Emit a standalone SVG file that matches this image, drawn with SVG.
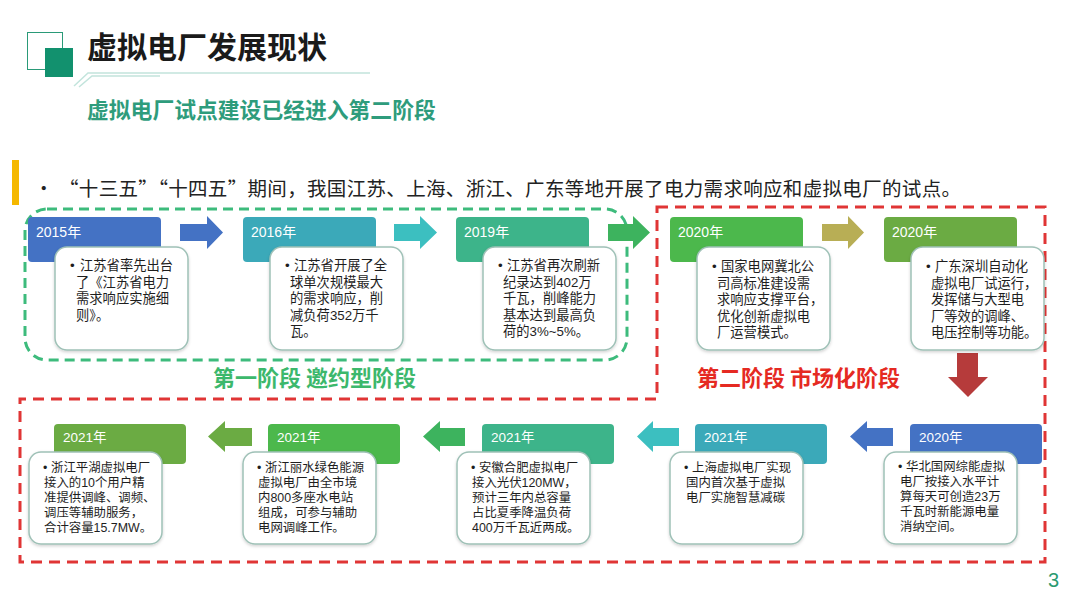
<svg xmlns="http://www.w3.org/2000/svg" width="1080" height="608" viewBox="0 0 1080 608">
<defs>
<filter id="sh" x="-10%" y="-10%" width="120%" height="125%"><feDropShadow dx="0" dy="1.5" stdDeviation="1.5" flood-color="#000" flood-opacity="0.18"/></filter>
</defs>
<style>
.zh{font-family:"Noto Sans CJK SC","Liberation Sans",sans-serif}
.yr{font-family:"Liberation Sans","Noto Sans CJK SC",sans-serif;font-size:14px;fill:#fff}
.yb{font-family:"Liberation Sans","Noto Sans CJK SC",sans-serif;font-size:13.5px;fill:#fff}
.box{fill:#fff;stroke:#9fc1b7;stroke-width:1.5;filter:url(#sh)}
.ct{font-family:"Liberation Sans","Noto Sans CJK SC",sans-serif;font-size:13.3px;fill:#1e1e1e}
.cb{font-family:"Liberation Sans","Noto Sans CJK SC",sans-serif;font-size:12.4px;fill:#1e1e1e}
</style>
<rect width="1080" height="608" fill="#fff"/>
<g id="header">
<rect x="27.5" y="32.5" width="35" height="37" fill="none" stroke="#2a9a78" stroke-width="1"/>
<rect x="45" y="48" width="28" height="29" fill="#12916e"/>
<text x="87" y="58" class="zh" font-size="30" font-weight="bold" fill="#1a1a1a">虚拟电厂发展现状</text>
<path d="M74,86 L88,73 L370,73" fill="none" stroke="#c2e4dc" stroke-width="1.5"/>
<path d="M79,87 L92,76 L160,76" fill="none" stroke="#c2e4dc" stroke-width="1.5"/>
<text x="87" y="118" class="zh" font-size="21.8" font-weight="bold" fill="#2e9c7c">虚拟电厂试点建设已经进入第二阶段</text>
<rect x="12" y="160" width="7" height="45" fill="#f5b800"/>
<text x="34" y="196" class="zh" font-size="19.5" fill="#222">•</text>
<text x="59" y="196" class="zh" font-size="19.5" fill="#222" textLength="902" lengthAdjust="spacing">“十三五”“十四五”期间，我国江苏、上海、浙江、广东等地开展了电力需求响应和虚拟电厂的试点。</text>
</g>
<g id="stages">
<rect x="25" y="209" width="602" height="151" rx="22" fill="none" stroke="#3dbb7c" stroke-width="3" stroke-dasharray="10,6"/>
<path d="M657,207 H1045 V562 H20 V399 H657 Z" fill="none" stroke="#e03535" stroke-width="3" stroke-dasharray="11,7"/>
<text x="213" y="386" class="zh" font-size="22" font-weight="bold" fill="#3cb86c">第一阶段 邀约型阶段</text>
<text x="697" y="386" class="zh" font-size="22" font-weight="bold" fill="#e52a22">第二阶段 市场化阶段</text>
</g>
<g id="connectors">
<path d="M180,224 H207 V216 L223,232.5 L207,249 V241 H180 Z" fill="#4472c4"/>
<path d="M394,224 H420 V216 L437,232.5 L420,249 V241 H394 Z" fill="#3cbfc0"/>
<path d="M608,224 H633 V216 L650,232.5 L633,249 V241 H608 Z" fill="#3db35e"/>
<path d="M822,224 H848 V216 L864,232.5 L848,249 V241 H822 Z" fill="#b8ae55"/>
<path d="M957,353 H978 V377 H988 L968,397 L948,377 H957 Z" fill="#b63b3b"/>
<path d="M893,428 H867 V421 L850,436.5 L867,452 V446 H893 Z" fill="#4472c4"/>
<path d="M679,428 H653 V421 L637,436.5 L653,452 V446 H679 Z" fill="#3cbfc0"/>
<path d="M465,428 H440 V421 L423,436.5 L440,452 V446 H465 Z" fill="#3db35e"/>
<path d="M252,428 H225 V421 L208,436.5 L225,452 V446 H252 Z" fill="#6bab43"/>
</g>
<g id="n2015">
<rect x="28" y="217" width="133" height="45" rx="4" fill="#4472c4"/>
<text x="36" y="237" class="yr">2015年</text>
<rect x="55" y="247" width="133" height="103" rx="12" class="box" stroke="#a6b8d0"/>
<text class="ct"><tspan x="70" y="270">•</tspan><tspan x="80" y="270">江苏省率先出台</tspan><tspan x="76" y="286.5">了《江苏省电力</tspan><tspan x="76" y="303">需求响应实施细</tspan><tspan x="76" y="319.5">则》。</tspan></text>
</g>
<g id="n2016">
<rect x="243" y="217" width="133" height="45" rx="4" fill="#3ba9b9"/>
<text x="251" y="237" class="yr">2016年</text>
<rect x="270" y="247" width="133" height="103" rx="12" class="box"/>
<text class="ct"><tspan x="285" y="270">•</tspan><tspan x="294" y="270">江苏省开展了全</tspan><tspan x="290" y="286.5">球单次规模最大</tspan><tspan x="290" y="303">的需求响应，削</tspan><tspan x="290" y="319.5">减负荷352万千</tspan><tspan x="290" y="336">瓦。</tspan></text>
</g>
<g id="n2019">
<rect x="456" y="217" width="133" height="45" rx="4" fill="#3db48a"/>
<text x="464" y="237" class="yr">2019年</text>
<rect x="483" y="247" width="133" height="103" rx="12" class="box"/>
<text class="ct"><tspan x="498" y="270">•</tspan><tspan x="507" y="270">江苏省再次刷新</tspan><tspan x="503" y="286.5">纪录达到402万</tspan><tspan x="503" y="303">千瓦，削峰能力</tspan><tspan x="503" y="319.5">基本达到最高负</tspan><tspan x="503" y="336">荷的3%~5%。</tspan></text>
</g>
<g id="n2020a">
<rect x="670" y="217" width="133" height="45" rx="4" fill="#4cb84c"/>
<text x="678" y="237" class="yr">2020年</text>
<rect x="697" y="247" width="133" height="103" rx="12" class="box"/>
<text class="ct"><tspan x="712" y="271">•</tspan><tspan x="721" y="271">国家电网冀北公</tspan><tspan x="717" y="287.5">司高标准建设需</tspan><tspan x="717" y="304">求响应支撑平台，</tspan><tspan x="717" y="320.5">优化创新虚拟电</tspan><tspan x="717" y="337">厂运营模式。</tspan></text>
</g>
<g id="n2020b">
<rect x="884" y="217" width="133" height="45" rx="4" fill="#6bab43"/>
<text x="892" y="237" class="yr">2020年</text>
<rect x="911" y="247" width="133" height="103" rx="12" class="box"/>
<text class="ct"><tspan x="926" y="271">•</tspan><tspan x="935" y="271">广东深圳自动化</tspan><tspan x="931" y="287.5">虚拟电厂试运行，</tspan><tspan x="931" y="304">发挥储与大型电</tspan><tspan x="931" y="320.5">厂等效的调峰、</tspan><tspan x="931" y="337">电压控制等功能。</tspan></text>
</g>
<g id="n2020c">
<rect x="910" y="424" width="132" height="40" rx="4" fill="#4472c4"/>
<text x="919" y="442" class="yb">2020年</text>
<rect x="884" y="452" width="133" height="92" rx="12" class="box" stroke="#a6b8d0"/>
<text class="cb"><tspan x="898" y="471">•</tspan><tspan x="906" y="471">华北国网综能虚拟</tspan><tspan x="900" y="486">电厂按接入水平计</tspan><tspan x="900" y="501">算每天可创造23万</tspan><tspan x="900" y="516">千瓦时新能源电量</tspan><tspan x="900" y="531">消纳空间。</tspan></text>
</g>
<g id="n2021a">
<rect x="695" y="424" width="132" height="40" rx="4" fill="#3ba9b9"/>
<text x="704" y="442" class="yb">2021年</text>
<rect x="670" y="452" width="133" height="92" rx="12" class="box"/>
<text class="cb"><tspan x="684" y="472">•</tspan><tspan x="692" y="472">上海虚拟电厂实现</tspan><tspan x="686" y="487">国内首次基于虚拟</tspan><tspan x="686" y="502">电厂实施智慧减碳</tspan></text>
</g>
<g id="n2021b">
<rect x="482" y="424" width="132" height="40" rx="4" fill="#3db48a"/>
<text x="491" y="442" class="yb">2021年</text>
<rect x="457" y="452" width="133" height="92" rx="12" class="box"/>
<text class="cb"><tspan x="471" y="472">•</tspan><tspan x="479" y="472">安徽合肥虚拟电厂</tspan><tspan x="472" y="487">接入光伏120MW，</tspan><tspan x="472" y="502">预计三年内总容量</tspan><tspan x="472" y="517">占比夏季降温负荷</tspan><tspan x="472" y="532">400万千瓦近两成。</tspan></text>
</g>
<g id="n2021c">
<rect x="268" y="424" width="132" height="40" rx="4" fill="#4cb84c"/>
<text x="277" y="442" class="yb">2021年</text>
<rect x="243" y="452" width="133" height="92" rx="12" class="box"/>
<text class="cb"><tspan x="257" y="472">•</tspan><tspan x="265" y="472">浙江丽水绿色能源</tspan><tspan x="258" y="487">虚拟电厂由全市境</tspan><tspan x="258" y="502">内800多座水电站</tspan><tspan x="258" y="517">组成，可参与辅助</tspan><tspan x="258" y="532">电网调峰工作。</tspan></text>
</g>
<g id="n2021d">
<rect x="54" y="424" width="132" height="40" rx="4" fill="#6bab43"/>
<text x="63" y="442" class="yb">2021年</text>
<rect x="29" y="452" width="133" height="92" rx="12" class="box"/>
<text class="cb"><tspan x="43" y="472">•</tspan><tspan x="51" y="472">浙江平湖虚拟电厂</tspan><tspan x="44" y="487">接入的10个用户精</tspan><tspan x="44" y="502">准提供调峰、调频、</tspan><tspan x="44" y="517">调压等辅助服务，</tspan><tspan x="44" y="532">合计容量15.7MW。</tspan></text>
</g>
<text x="1048" y="587" font-family="Liberation Sans,sans-serif" font-size="20" fill="#2a9a70">3</text>
</svg>
